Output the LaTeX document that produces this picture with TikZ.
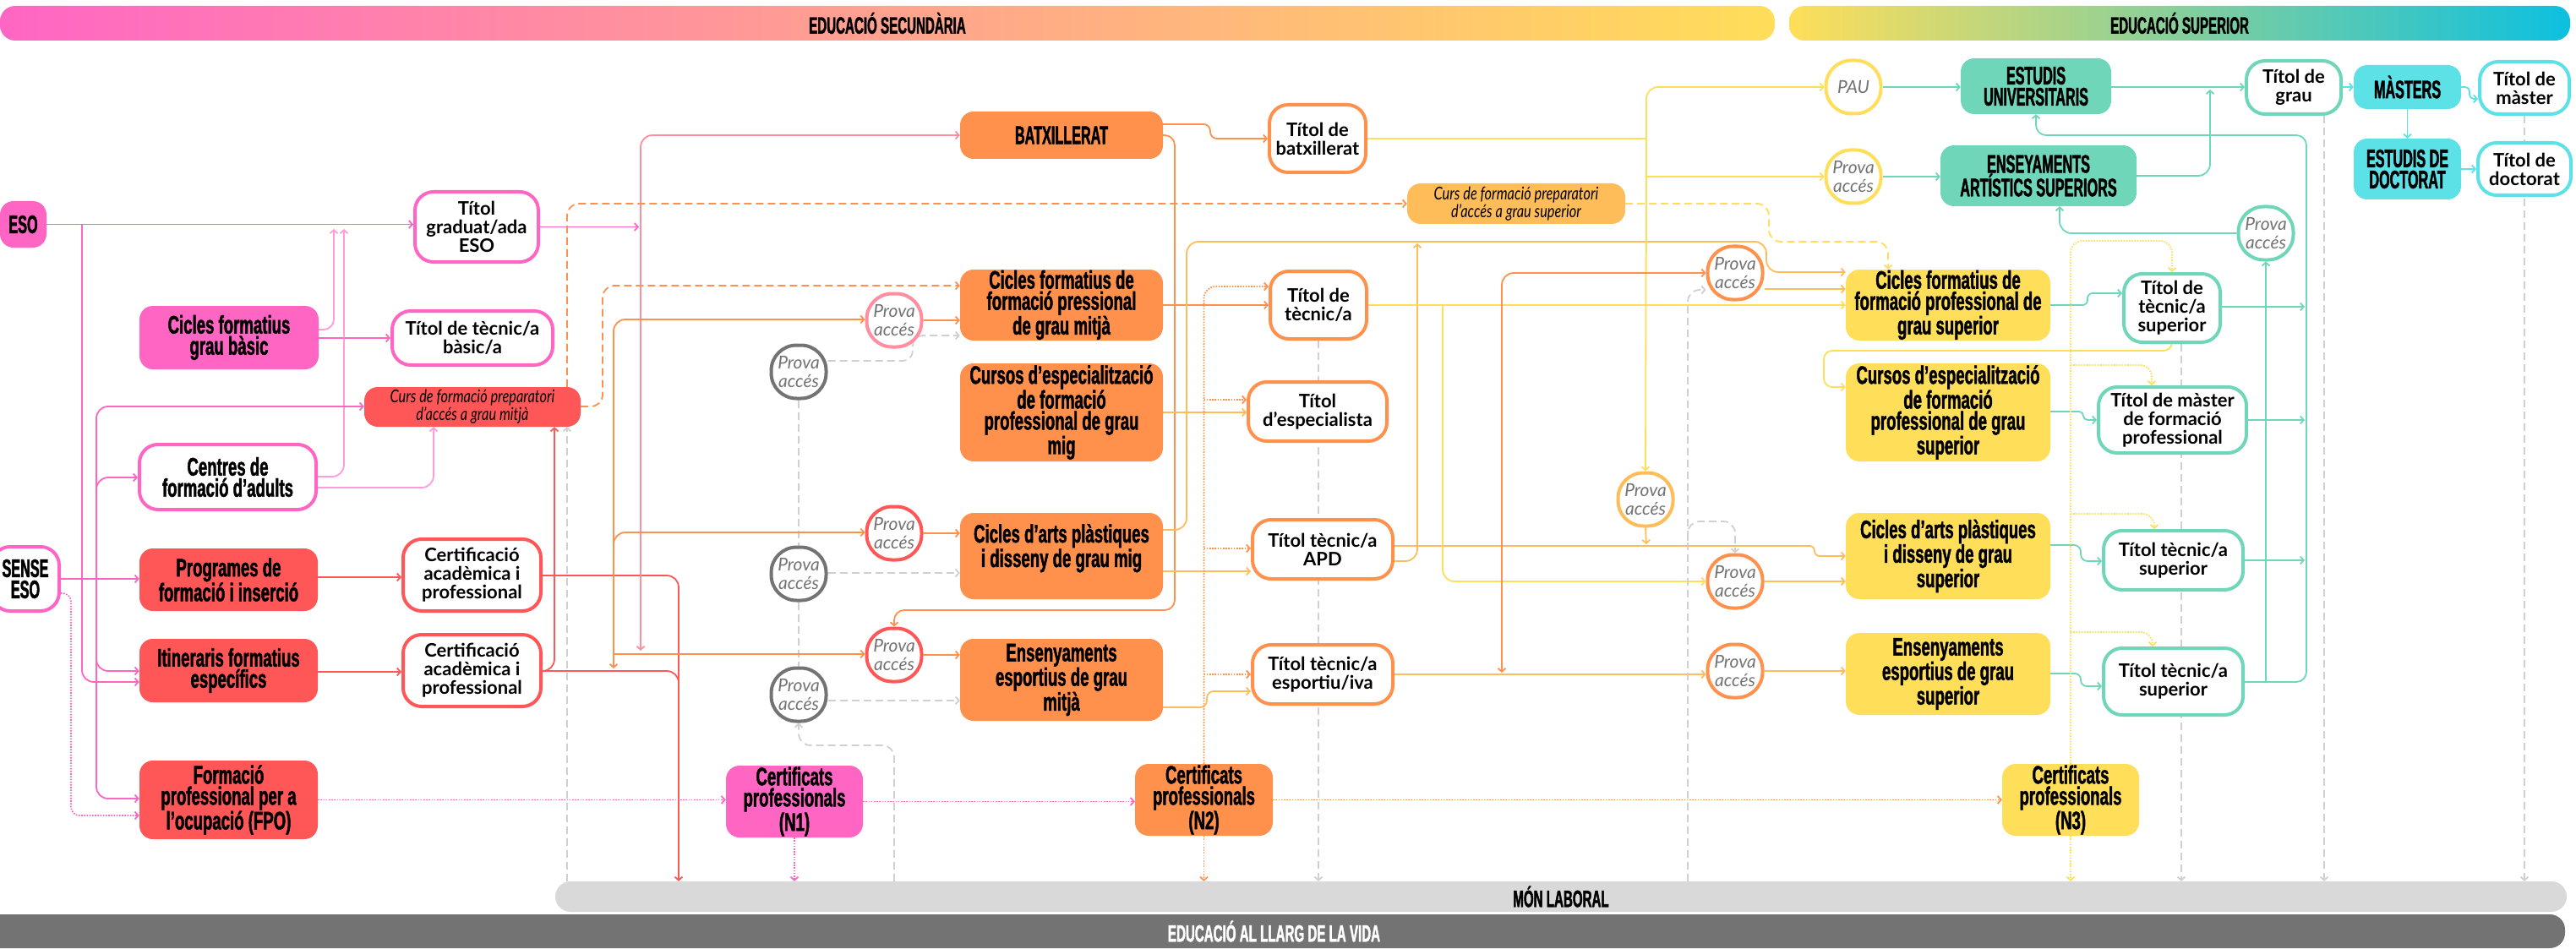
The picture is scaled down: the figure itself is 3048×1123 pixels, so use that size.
\documentclass[tikz,border=0pt]{standalone}
\usepackage{fontspec}
\setmainfont{Lato}
\newfontfamily\anton[FakeStretch=0.62,FakeBold=1.5]{Liberation Sans}
\newfontfamily\antonc[FakeStretch=0.54,FakeBold=1.5]{Liberation Sans}
\newfontfamily\latocond[FakeStretch=0.78]{Lato}
\usetikzlibrary{arrows.meta}
\pgfdeclarelayer{bg}
\pgfsetlayers{bg,main}
\definecolor{pinkF}{HTML}{FF66C4}
\definecolor{lpinkF}{HTML}{FF8FA0}
\definecolor{redF}{HTML}{FF5757}
\definecolor{orangeF}{HTML}{FF914D}
\definecolor{lorangeF}{HTML}{FFBD59}
\definecolor{yellowF}{HTML}{FFDE59}
\definecolor{tealF}{HTML}{6FD6BA}
\definecolor{cyanF}{HTML}{5CE1E6}
\definecolor{cyanD}{HTML}{0CC0DF}
\definecolor{greyP}{HTML}{737373}
\definecolor{greyL}{HTML}{D9D9D9}
\definecolor{greyD}{HTML}{D0D0D0}
\tikzset{
  lowfont/.style={font=\anton\bfseries\fontsize{30}{25}\selectfont},
  capfont/.style={font=\antonc\bfseries\fontsize{30}{25}\selectfont},
  stage/.style={rounded corners=16, inner sep=0, align=center, lowfont},
  stagecap/.style={stage, capfont},
  titol/.style={draw, line width=4pt, fill=white, rounded corners=22, inner sep=0, align=center,
    font=\bfseries\fontsize{22}{22}\selectfont},
  prova/.style={draw, line width=4pt, fill=white, rounded corners=30, inner sep=0, align=center,
    minimum width=65, minimum height=63, text=greyP, font=\itshape\fontsize{21}{22}\selectfont},
  curs/.style={rounded corners=16, inner sep=0, align=center, font=\latocond\itshape\fontsize{21}{21}\selectfont},
  bar/.style={rounded corners=18, inner sep=0, font=\antonc\bfseries\fontsize{28}{28}\selectfont},
  ln/.style={line width=1.8pt, rounded corners=14},
  arr/.style={-{Straight Barb[length=4pt,width=9pt]}},
  arrs/.style={{Straight Barb[length=4pt,width=9pt]}-{Straight Barb[length=4pt,width=9pt]}},
  dsh/.style={dash pattern=on 9pt off 5pt},
  dotline/.style={dash pattern=on 1.6pt off 1.6pt}
}
\begin{document}
\begin{tikzpicture}[x=1pt,y=-1pt]
\useasboundingbox (0,0) rectangle (3048,1123);

% bands
\node[bar, left color=pinkF, right color=yellowF, minimum width=2100, minimum height=41] (secbar) at (1050,27.5) {EDUCACIÓ SECUNDÀRIA};
\node[bar, left color=yellowF, right color=cyanD, minimum width=924, minimum height=41] (supbar) at (2579,27.5) {EDUCACIÓ SUPERIOR};
\node[bar, fill=greyL, minimum width=2380, minimum height=36] (laboral) at (1847,1061) {MÓN LABORAL};
\node[bar, fill=greyP, text=white, minimum width=3055, minimum height=40] (vida) at (1507.5,1102) {EDUCACIÓ AL LLARG DE LA VIDA};

% first column
\node[stagecap, fill=pinkF, minimum width=55, minimum height=55] (eso) at (27.5,265.5) {ESO};
\node[titol, draw=pinkF, capfont, minimum width=80, minimum height=76] (sense) at (30,685) {SENSE\\ESO};
\node[stage, fill=pinkF, minimum width=212, minimum height=75] (cfgb) at (271,399.5) {Cicles formatius\\grau bàsic};
\node[titol, draw=pinkF, lowfont, minimum width=209, minimum height=77] (adults) at (269.5,564.5) {Centres de\\formació d’adults};
\node[stage, fill=redF, minimum width=211, minimum height=74] (prog) at (270.5,686) {Programes de\\formació i inserció};
\node[stage, fill=redF, minimum width=211, minimum height=75] (itin) at (270.5,793.5) {Itineraris formatius\\específics};
\node[stage, fill=redF, minimum width=211, minimum height=93] (fpo) at (270.5,946.5) {Formació\\professional per a\\l’ocupació (FPO)};

% second column
\node[titol, draw=pinkF, minimum width=146, minimum height=83] (tgeso) at (564,268.5) {Títol\\graduat/ada\\ESO};
\node[titol, draw=pinkF, minimum width=190, minimum height=64] (ttbasic) at (559,400) {Títol de tècnic/a\\bàsic/a};
\node[curs, fill=redF, minimum width=256, minimum height=47] (cursmig) at (559,481.5) {Curs de formació preparatori\\d’accés a grau mitjà};
\node[titol, draw=redF, minimum width=163, minimum height=85] (cert1) at (558.5,680.5) {Certificació\\acadèmica i\\professional};
\node[titol, draw=redF, minimum width=163, minimum height=85] (cert2) at (558.5,793.5) {Certificació\\acadèmica i\\professional};

% access tests, mid level
\node[prova, draw=lpinkF] (provaA) at (1058,379) {Prova\\accés};
\foreach \n/\y in {G1/440,G2/679,G3/822}
  \node[prova, draw=greyP] (prova\n) at (945,\y) {Prova\\accés};
\node[prova, draw=redF] (provaR1) at (1058,631) {Prova\\accés};
\node[prova, draw=redF] (provaR2) at (1058,775) {Prova\\accés};

% mid level studies
\node[stagecap, fill=orangeF, minimum width=240, minimum height=56] (batx) at (1256,160) {BATXILLERAT};
\node[stage, fill=orangeF, minimum width=240, minimum height=84] (cfgm) at (1256,361) {Cicles formatius de\\formació pressional\\de grau mitjà};
\node[stage, fill=orangeF, minimum width=240, minimum height=116] (cemig) at (1256,488) {Cursos d’especialització\\de formació\\professional de grau\\mig};
\node[stage, fill=orangeF, minimum width=240, minimum height=102] (apdmig) at (1256,658) {Cicles d’arts plàstiques\\i disseny de grau mig\\\mbox{}};
\node[stage, fill=orangeF, minimum width=240, minimum height=97] (esmig) at (1256,804.5) {Ensenyaments\\esportius de grau\\mitjà};

\node[titol, draw=orangeF, minimum width=114, minimum height=80] (tbatx) at (1559,164) {Títol de\\batxillerat};
\node[titol, draw=orangeF, minimum width=114, minimum height=80] (ttec) at (1560,361) {Títol de\\tècnic/a};
\node[titol, draw=orangeF, minimum width=164, minimum height=70] (tesp) at (1559,487) {Títol\\d’especialista};
\node[titol, draw=orangeF, minimum width=166, minimum height=70] (tapd) at (1565,650) {Títol tècnic/a\\APD};
\node[titol, draw=orangeF, minimum width=166, minimum height=70] (tesport) at (1565,798) {Títol tècnic/a\\esportiu/iva};
\node[curs, fill=lorangeF, minimum width=258, minimum height=48] (curssup) at (1794,241) {Curs de formació preparatori\\d’accés a grau superior};

% access tests, upper level
\node[prova, draw=lorangeF] (provaO1) at (1947,591) {Prova\\accés};
\node[prova, draw=orangeF] (provaO2) at (2053,323) {Prova\\accés};
\node[prova, draw=orangeF] (provaO3) at (2053,688) {Prova\\accés};
\node[prova, draw=orangeF] (provaO4) at (2053,794) {Prova\\accés};
\node[prova, draw=yellowF] (pau) at (2193,103) {PAU};
\node[prova, draw=yellowF] (provaY) at (2193,209) {Prova\\accés};

% higher education
\node[stagecap, fill=tealF, minimum width=178, minimum height=66] (univ) at (2409,102) {ESTUDIS\\UNIVERSITARIS};
\node[stagecap, fill=tealF, minimum width=232, minimum height=72] (artsup) at (2412,208) {ENSEYAMENTS\\ARTÍSTICS SUPERIORS};
\node[prova, draw=tealF] (provaT) at (2681,276) {Prova\\accés};
\node[titol, draw=tealF, minimum width=112, minimum height=63] (tgrau) at (2714,103.5) {Títol de\\grau};
\node[stagecap, fill=cyanF, minimum width=127, minimum height=52] (masters) at (2848.5,103) {MÀSTERS};
\node[titol, draw=cyanF, minimum width=106, minimum height=62] (tmaster) at (2987,104) {Títol de\\màster};
\node[stagecap, fill=cyanF, minimum width=127, minimum height=72] (doctorat) at (2848.5,200) {ESTUDIS DE\\DOCTORAT};
\node[titol, draw=cyanF, minimum width=110, minimum height=62] (tdoct) at (2987,200) {Títol de\\doctorat};

\node[stage, fill=yellowF, minimum width=242, minimum height=84] (cfgs) at (2305,361) {Cicles formatius de\\formació professional de\\grau superior};
\node[stage, fill=yellowF, minimum width=242, minimum height=116] (cesup) at (2305,488) {Cursos d’especialització\\de formació\\professional de grau\\superior};
\node[stage, fill=yellowF, minimum width=242, minimum height=102] (apdsup) at (2305,658) {Cicles d’arts plàstiques\\i disseny de grau\\superior};
\node[stage, fill=yellowF, minimum width=242, minimum height=97] (essup) at (2305,797.5) {Ensenyaments\\esportius de grau\\superior};

\node[titol, draw=tealF, minimum width=114, minimum height=81] (ttsup) at (2570,364.5) {Títol de\\tècnic/a\\superior};
\node[titol, draw=tealF, minimum width=175, minimum height=78] (tmfp) at (2570.5,497) {Títol de màster\\de formació\\professional};
\node[titol, draw=tealF, minimum width=165, minimum height=70] (tapdsup) at (2571.5,663) {Títol tècnic/a\\superior};
\node[titol, draw=tealF, minimum width=165, minimum height=79] (tessup) at (2571.5,806.5) {Títol tècnic/a\\superior};

% certificates
\node[stage, fill=pinkF, minimum width=162, minimum height=85] (n1) at (940,948.5) {Certificats\\professionals\\(N1)};
\node[stage, fill=orangeF, minimum width=163, minimum height=85] (n2) at (1424.5,946.5) {Certificats\\professionals\\(N2)};
\node[stage, fill=yellowF, minimum width=162, minimum height=85] (n3) at (2450,946.5) {Certificats\\professionals\\(N3)};

\begin{pgfonlayer}{bg}
% from ESO and SENSE ESO
\draw[ln,pinkF,arr] (eso.east) -- (tgeso.west |- eso.east);
\draw[ln,pinkF,arr] (97,0 |- eso.east) -- (97,807) -- (itin.west |- 0,807);
\draw[ln,pinkF,arr] (cfgb.east |- 0,400) -- (ttbasic.west |- 0,400);
\draw[ln,pinkF!65,arr,rounded corners=12] (cfgb.east |- 0,390) -- (395,390) -- (395,271);
\draw[ln,pinkF!65,arr] (adults.east |- 0,564) -- (407,564) -- (407,271);
\draw[ln,pinkF!65,arr] (adults.east |- 0,577) -- (513,577) -- (513,0 |- cursmig.south);
\draw[ln,pinkF,arr] (sense.east) -- (prog.west |- sense.east);
\draw[ln,pinkF,arr] (114,685) -- (114,481) -- (cursmig.west |- 0,481);
\draw[ln,pinkF,arr] (114,620) -- (114,565) -- (adults.west |- 0,565);
\draw[ln,pinkF,arr] (114,685) -- (114,794) -- (itin.west |- 0,794);
\draw[ln,pinkF,arr] (114,780) -- (114,945) -- (fpo.west |- 0,945);
\draw[ln,pinkF,dotline,arr,rounded corners=10] (sense.east |- 0,702) -- (84,702) -- (84,965) -- (fpo.west |- 0,965);

% certifications
\draw[ln,redF,arr] (prog.east |- 0,683) -- (cert1.west |- 0,683);
\draw[ln,redF,arr] (itin.east |- 0,795) -- (cert2.west |- 0,795);
\draw[ln,redF,arr] (cert1.east |- 0,681) -- (803,681) -- (803,0 |- laboral.north);
\draw[ln,redF] (cert2.east |- 0,794) -- (803,794) -- (803,900);
\draw[ln,redF,arr] (cert2.east |- 0,794) -- (656,794) -- (656,0 |- cursmig.south);
\draw[ln,greyD,dsh,arr] (671,0 |- laboral.north) -- (671,0 |- cursmig.south);

% grey access tests
\draw[ln,greyD,dsh,arr] (1058,0 |- laboral.north) -- (1058,882) -- (945,882) -- (provaG3.south);
\draw[ln,greyD,dsh] (provaG1.south) -- (provaG2.north);
\draw[ln,greyD,dsh] (provaG2.south) -- (provaG3.north);
\draw[ln,greyD,dsh,arr,rounded corners=12] (provaG1.east |- 0,427) -- (1080,427) -- (1080,397) -- (cfgm.west |- 0,397);
\draw[ln,greyD,dsh,arr] (provaG2.east |- 0,678) -- (apdmig.west |- 0,678);
\draw[ln,greyD,dsh,arr] (provaG3.east |- 0,829) -- (esmig.west |- 0,829);

% towards mid level
\draw[ln,pinkF,arr] (tgeso.east) -- (756,0 |- tgeso.east);
\draw[ln,lpinkF,arrs] (758,770) -- (758,160) -- (batx.west);
\draw[ln,orangeF,arrs] (726,791) -- (726,378) -- (provaA.west |- 0,378);
\draw[ln,orangeF,arr] (726,650) -- (726,630) -- (provaR1.west |- 0,630);
\draw[ln,orangeF,arr] (726,774) -- (provaR2.west |- 0,774);
\draw[ln,orangeF,arr] (provaA.east) -- (cfgm.west |- provaA.east);
\draw[ln,orangeF,arr] (provaR1.east) -- (apdmig.west |- provaR1.east);
\draw[ln,orangeF,arr] (provaR2.east) -- (esmig.west |- provaR2.east);
\draw[ln,orangeF,dsh,arr] (cursmig.east |- 0,481) -- (713,481) -- (713,338) -- (cfgm.west |- 0,338);
\draw[ln,orangeF,dsh,arr] (671,0 |- cursmig.north) -- (671,241) -- (curssup.west);

% mid level titles
\draw[ln,orangeF,arr,rounded corners=8] (batx.east |- 0,147) -- (1432,147) -- (1432,164) -- (tbatx.west |- 0,164);
\draw[ln,orangeF,arr,rounded corners=12] (batx.east |- 0,160) -- (1390,160) -- (1390,722) -- (1058,722) -- (provaR2.north);
\draw[ln,orangeF,arr] (cfgm.east) -- (ttec.west |- cfgm.east);
\draw[ln,lorangeF,arr] (cemig.east) -- (tesp.west |- cemig.east);
\draw[ln,lorangeF,arr] (apdmig.east |- 0,676) -- (tapd.west |- 0,676);
\draw[ln,lorangeF,arr] (apdmig.east |- 0,627) -- (1404,627) -- (1404,286) -- (2090,286) -- (2090,322) -- (cfgs.west |- 0,322);
\draw[ln,lorangeF,arr,rounded corners=8] (esmig.east |- 0,837) -- (1428,837) -- (1428,818) -- (tesport.west |- 0,818);
\draw[ln,orangeF,dotline,arr] (n2.north) -- (n2.north |- 0,339) -- (ttec.west |- 0,339);
\foreach \yy/\nd in {473/tesp,649/tapd,798/tesport}
  \draw[ln,orangeF,dotline,arr] (n2.north |- 0,\yy) -- (\nd.west |- 0,\yy);

% towards higher education
\draw[ln,yellowF,arr] (1948,300) -- (1948,103) -- (pau.west);
\draw[ln,yellowF] (tbatx.east) -- (1948,0 |- tbatx.east);
\draw[ln,yellowF,arr] (1948,150) -- (provaO1.north);
\draw[ln,yellowF,arr] (1948,209) -- (provaY.west);
\draw[ln,lorangeF,arr] (provaO1.south) -- (1948,644);
\draw[ln,lorangeF,arr,rounded corners=6] (tapd.east |- 0,646) -- (2147,646) -- (2147,658) -- (apdsup.west |- 0,658);
\draw[ln,lorangeF,arr] (tapd.east |- 0,664) -- (1677,664) -- (1677,288);
\draw[ln,yellowF,arr] (ttec.east) -- (cfgs.west |- ttec.east);
\draw[ln,yellowF,arr] (1707,361) -- (1707,688) -- (provaO3.west);
\draw[ln,orangeF,arr] (1777,361) -- (1777,323) -- (provaO2.west);
\draw[ln,orangeF,arr] (1777,361) -- (1777,796);
\draw[ln,lorangeF,arr] (tesport.east) -- (provaO4.west |- tesport.east);
\draw[ln,lorangeF,arr] (provaO2.east |- 0,342) -- (cfgs.west |- 0,342);
\draw[ln,lorangeF,arr] (provaO3.east) -- (apdsup.west |- provaO3.east);
\draw[ln,lorangeF,arr] (provaO4.east) -- (essup.west |- provaO4.east);
\draw[ln,greyD,dsh,arr] (1997,0 |- laboral.north) -- (1997,343) -- (provaO2.west |- 0,343);
\draw[ln,greyD,dsh,arr] (1997,640) -- (1997,617) -- (2053,617) -- (provaO3.north);
\draw[ln,yellowF,dsh,arr] (curssup.east) -- (2093,241) -- (2093,286) -- (2234,286) -- (2234,0 |- cfgs.north);

% higher education
\draw[ln,tealF,arr] (pau.east) -- (univ.west |- pau.east);
\draw[ln,tealF,arr] (provaY.east) -- (artsup.west |- provaY.east);
\draw[ln,tealF,arr] (univ.east |- 0,103) -- (tgrau.west |- 0,103);
\draw[ln,tealF,arr] (artsup.east) -- (2615,0 |- artsup.east) -- (2615,106);
\draw[ln,cyanF,arr] (tgrau.east |- 0,103) -- (masters.west);
\draw[ln,cyanF,arr,rounded corners=5] (masters.east) -- (2922,103) -- (2922,117) -- (tmaster.west |- 0,117);
\draw[ln,cyanF,arr] (masters.south) -- (doctorat.north);
\draw[ln,cyanF,arr] (doctorat.east) -- (tdoct.west |- doctorat.east);
\draw[ln,tealF,arr,rounded corners=12] (tessup.east |- 0,807) -- (2729,807) -- (2729,160) -- (2409,160) -- (univ.south);
\draw[ln,tealF,arr] (ttsup.east |- 0,363) -- (2727,363);
\draw[ln,tealF,arr] (tmfp.east) -- (2727,0 |- tmfp.east);
\draw[ln,tealF,arr] (tapdsup.east) -- (2727,0 |- tapdsup.east);
\draw[ln,tealF,arr] (2681,807) -- (provaT.south);
\draw[ln,tealF,arr] (provaT.west) -- (2437,0 |- provaT.west) -- (2437,0 |- artsup.south);
\draw[ln,tealF,arr,rounded corners=6] (cfgs.east) -- (2470,361) -- (2470,347) -- (ttsup.west |- 0,347);
\draw[ln,tealF,arr,rounded corners=5] (cesup.east |- 0,487) -- (2465,487) -- (2465,497) -- (tmfp.west);
\draw[ln,tealF,arr,rounded corners=8] (apdsup.east |- 0,645) -- (2462,645) -- (2462,664) -- (tapdsup.west |- 0,664);
\draw[ln,tealF,arr,rounded corners=7] (essup.east |- 0,797) -- (2462,797) -- (2462,812) -- (tessup.west |- 0,812);
\draw[ln,yellowF,arr,rounded corners=10] (ttsup.south) -- (2570,415) -- (2158,415) -- (2158,458) -- (cesup.west |- 0,458);
\draw[ln,yellowF,dotline,arr] (n3.north) -- (2450,285) -- (2570,285) -- (ttsup.north);
\foreach \yy/\xx/\nd in {432/2546/tmfp,608/2549/tapdsup,748/2547/tessup}
  \draw[ln,yellowF,dotline,arr] (2450,\yy) -- (\xx,\yy) -- (\xx,0 |- \nd.north);

% certificates and labour market
\draw[ln,pinkF,dotline,arr] (fpo.east) -- (n1.west |- fpo.east);
\draw[ln,pinkF,dotline,arr] (n1.east) -- (n2.west |- n1.east);
\draw[ln,orangeF,dotline,arr] (n2.east) -- (n3.west |- n2.east);
\draw[ln,pinkF,dotline,arr] (n1.south) -- (n1.south |- laboral.north);
\draw[ln,orangeF,dotline,arr] (n2.south) -- (n2.south |- laboral.north);
\draw[ln,yellowF,dotline,arr] (n3.south) -- (n3.south |- laboral.north);
\foreach \xx/\nd in {1560/ttec,2581/ttsup,2750/tgrau,2987/tmaster}
  \draw[ln,greyD,dsh,arr] (\xx,0 |- \nd.south) -- (\xx,0 |- laboral.north);
\end{pgfonlayer}
\end{tikzpicture}
\end{document}
